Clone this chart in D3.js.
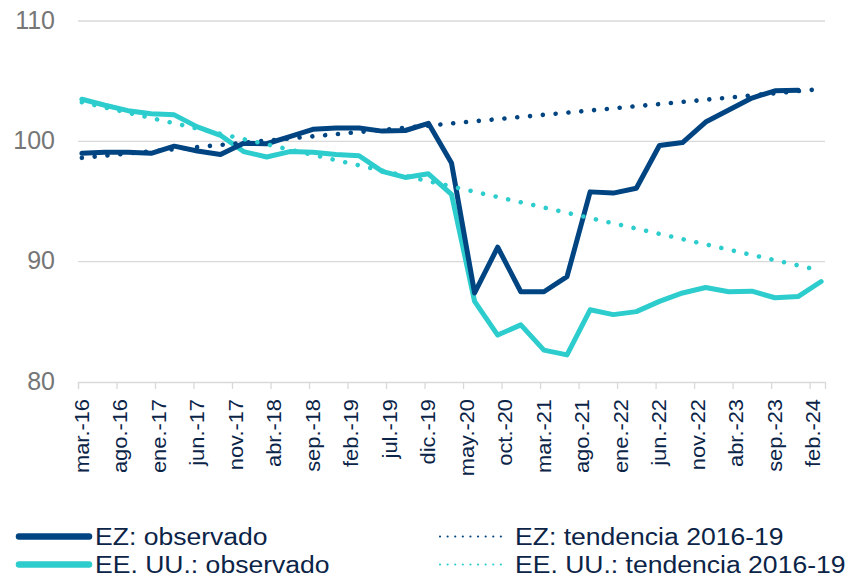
<!DOCTYPE html>
<html>
<head>
<meta charset="utf-8">
<script src="https://cdn.jsdelivr.net/npm/d3@7"></script>
<style>
  html, body { margin: 0; padding: 0; background: #ffffff; }
  svg { display: block; font-family: "Liberation Sans", Arial, sans-serif; }
</style>
</head>
<body>
<svg id="chart" width="850" height="577"></svg>
<script>
// ---------------- data ----------------
const tickLabels = ["mar.-16","ago.-16","ene.-17","jun.-17","nov.-17","abr.-18","sep.-18","feb.-19","jul.-19","dic.-19",
  "may.-20","oct.-20","mar.-21","ago.-21","ene.-22","jun.-22","nov.-22","abr.-23","sep.-23","feb.-24"];

const quarters = ["2016-03","2016-06","2016-09","2016-12","2017-03","2017-06","2017-09","2017-12",
  "2018-03","2018-06","2018-09","2018-12","2019-03","2019-06","2019-09","2019-12",
  "2020-03","2020-06","2020-09","2020-12","2021-03","2021-06","2021-09","2021-12",
  "2022-03","2022-06","2022-09","2022-12","2023-03","2023-06","2023-09","2023-12","2024-03"];

const ezObserved = [99.0, 99.1, 99.1, 99.0, 99.6, 99.2, 98.9, 99.85,
  99.8, 100.4, 101.0, 101.1, 101.1, 100.85, 100.9, 101.5,
  98.2, 87.4, 91.2, 87.5, 87.5, 88.75, 95.8, 95.7,
  96.1, 99.65, 99.9, 101.6, 102.6, 103.6, 104.2, 104.25];

const usObserved = [103.5, 103.0, 102.55, 102.3, 102.2, 101.2, 100.5, 99.15,
  98.7, 99.15, 99.1, 98.9, 98.8, 97.5, 97.0, 97.3,
  95.6, 86.7, 83.9, 84.75, 82.65, 82.25, 86.0, 85.6,
  85.85, 86.7, 87.4, 87.85, 87.5, 87.55, 87.0, 87.1, 88.35];

const trendDates = ["2016-03", "2024-03"];
const ezTrend = [98.63, 104.35];
const usTrend = [103.25, 89.25];

const yTicks = [80, 90, 100, 110];

const seriesNames = ["EZ: observado", "EE. UU.: observado", "EZ: tendencia 2016-19", "EE. UU.: tendencia 2016-19"];

// ---------------- helpers ----------------
const NAVY = "#004481", AQUA = "#2dcccd";
const TEXT = "#0b2447", GRAY = "#767676", GRID = "#d9d9d9";

function monthIndex(s) {
  const [y, m] = s.split("-").map(Number);
  return (y - 2016) * 12 + (m - 3);
}

const svg = d3.select("#chart");
const x = d3.scaleLinear().domain([-0.5, 96.5]).range([78, 825]);
const y = d3.scaleLinear().domain([80, 110]).range([382, 21]);

// gridlines
svg.append("g").selectAll("line")
  .data(yTicks.filter(d => d !== 80))
  .join("line")
  .attr("x1", x.range()[0]).attr("x2", x.range()[1])
  .attr("y1", d => y(d)).attr("y2", d => y(d))
  .attr("stroke", GRID).attr("stroke-width", 1.3);

// y labels
svg.append("g").selectAll("text")
  .data(yTicks)
  .join("text")
  .attr("x", 55).attr("y", d => y(d) + 7.5)
  .attr("text-anchor", "end")
  .attr("font-size", 25)
  .attr("fill", GRAY)
  .text(d => d);

// x axis
const xAxis = d3.axisBottom(x)
  .tickValues(tickLabels.map((d, i) => i * 5 - 0.5))
  .tickSize(7)
  .tickFormat("");
const gx = svg.append("g").attr("transform", `translate(0,${y(80)})`).call(xAxis);
gx.select(".domain").attr("stroke", GRID).attr("stroke-width", 1.3);
gx.selectAll(".tick line").attr("stroke", GRID).attr("stroke-width", 1.3);

// x labels (rotated)
svg.append("g").selectAll("text")
  .data(tickLabels)
  .join("text")
  .attr("transform", (d, i) => `translate(${x(i * 5) + 7},399) rotate(-90) scale(1.12,1)`)
  .attr("text-anchor", "end")
  .attr("font-size", 19.5)
  .attr("fill", TEXT)
  .text(d => d);

// lines
const line = d3.line()
  .x(d => x(monthIndex(d.date)))
  .y(d => y(d.value));

const usData = usObserved.map((v, i) => ({ date: quarters[i], value: v }));
const ezData = ezObserved.map((v, i) => ({ date: quarters[i], value: v }));
const ezTrendData = ezTrend.map((v, i) => ({ date: trendDates[i], value: v }));
const usTrendData = usTrend.map((v, i) => ({ date: trendDates[i], value: v }));

svg.append("path").datum(usData)
  .attr("d", line).attr("fill", "none")
  .attr("stroke", AQUA).attr("stroke-width", 5)
  .attr("stroke-linejoin", "round").attr("stroke-linecap", "round");

svg.append("path").datum(ezData)
  .attr("d", line).attr("fill", "none")
  .attr("stroke", NAVY).attr("stroke-width", 5)
  .attr("stroke-linejoin", "round").attr("stroke-linecap", "round");

svg.append("path").datum(ezTrendData)
  .attr("d", line).attr("fill", "none")
  .attr("stroke", NAVY).attr("stroke-width", 4.6)
  .attr("stroke-dasharray", "0.01 12.85")
  .attr("stroke-linecap", "round");

svg.append("path").datum(usTrendData)
  .attr("d", line).attr("fill", "none")
  .attr("stroke", AQUA).attr("stroke-width", 4.6)
  .attr("stroke-dasharray", "0.01 12.85")
  .attr("stroke-linecap", "round");

// legend
const legendItems = [
  { name: seriesNames[0], color: NAVY, dotted: false, lx: 19, tx: 95, row: 0 },
  { name: seriesNames[1], color: AQUA, dotted: false, lx: 19, tx: 95, row: 1 },
  { name: seriesNames[2], color: NAVY, dotted: true, lx: 440, tx: 515, row: 0 },
  { name: seriesNames[3], color: AQUA, dotted: true, lx: 440, tx: 515, row: 1 }
];
const lg = svg.append("g");
legendItems.forEach(it => {
  const cy = 536.5 + it.row * 28;
  if (it.dotted) {
    lg.append("line")
      .attr("x1", it.lx).attr("x2", it.lx + 62)
      .attr("y1", cy).attr("y2", cy)
      .attr("stroke", it.color).attr("stroke-width", 2.2)
      .attr("stroke-dasharray", "0.01 7.6").attr("stroke-linecap", "round");
  } else {
    lg.append("line")
      .attr("x1", it.lx).attr("x2", it.lx + 70)
      .attr("y1", cy).attr("y2", cy)
      .attr("stroke", it.color).attr("stroke-width", 6.5)
      .attr("stroke-linecap", "round");
  }
  lg.append("text")
    .attr("transform", `translate(${it.tx},${cy + 8.5}) scale(1.13,1)`)
    .attr("font-size", 23.5)
    .attr("fill", TEXT)
    .text(it.name);
});
</script>
</body>
</html>
